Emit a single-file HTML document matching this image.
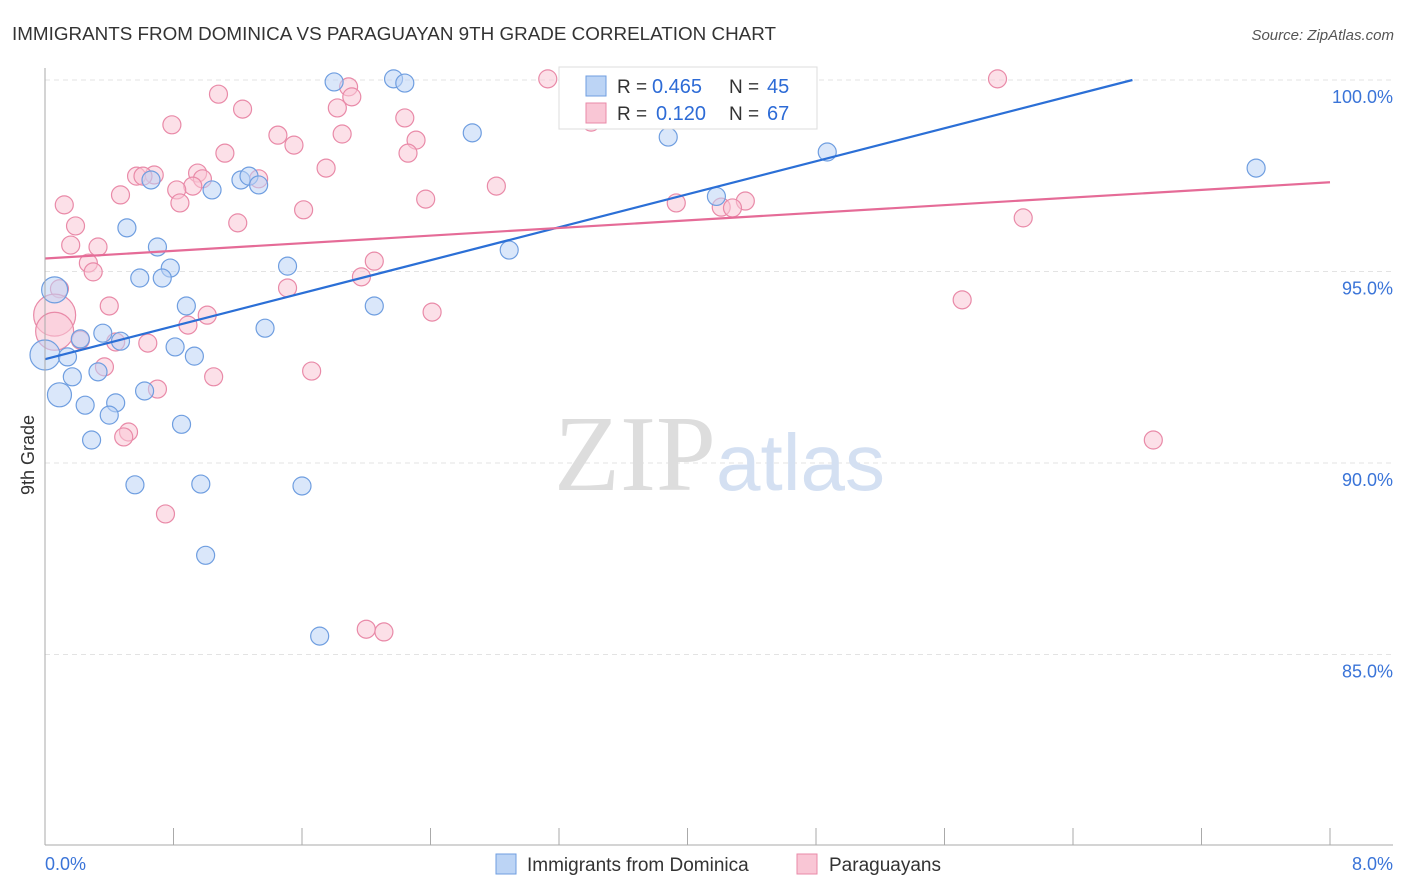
<!DOCTYPE html>
<html><head><meta charset="utf-8"><style>
body{margin:0;background:#fff;font-family:"Liberation Sans",sans-serif}
#c{position:absolute;left:0;top:0}
</style></head><body>
<svg id="c" width="1406" height="892">
<text x="12" y="40" font-size="18" fill="#333" textLength="764" lengthAdjust="spacingAndGlyphs">IMMIGRANTS FROM DOMINICA VS PARAGUAYAN 9TH GRADE CORRELATION CHART</text>
<text x="1394" y="40" font-size="15" fill="#555" text-anchor="end" font-style="italic">Source: ZipAtlas.com</text>
<g id="grid"></g>
<text x="716" y="490" font-size="108" fill="#ddd" text-anchor="end" font-family="Liberation Serif">ZIP</text>
<text x="716" y="490" font-size="80" fill="#d4e0f2">atlas</text>
<g id="pts"></g>
<g id="axes"></g>
<text x="34" y="455" font-size="18" fill="#333" text-anchor="middle" transform="rotate(-90 34 455)">9th Grade</text>
<g>
<rect x="559" y="67" width="258" height="62" fill="#fff" stroke="#ddd"/>
<rect x="586" y="76" width="20" height="20" fill="#bcd4f5" stroke="#6f9ee0"/>
<rect x="586" y="103" width="20" height="20" fill="#f9c6d5" stroke="#e98aa8"/>
<text x="617" y="93" font-size="19" fill="#333">R =</text><text x="652" y="93" font-size="20" fill="#2d6bd6">0.465</text>
<text x="729" y="93" font-size="19" fill="#333">N =</text><text x="767" y="93" font-size="20" fill="#2d6bd6">45</text>
<text x="617" y="120" font-size="19" fill="#333">R =</text><text x="656" y="120" font-size="20" fill="#2d6bd6">0.120</text>
<text x="729" y="120" font-size="19" fill="#333">N =</text><text x="767" y="120" font-size="20" fill="#2d6bd6">67</text>
</g>
<g>
<rect x="496" y="854" width="20" height="20" fill="#bcd4f5" stroke="#6f9ee0"/>
<text x="527" y="871" font-size="19" fill="#333">Immigrants from Dominica</text>
<rect x="797" y="854" width="20" height="20" fill="#f9c6d5" stroke="#e98aa8"/>
<text x="829" y="871" font-size="19" fill="#333">Paraguayans</text>
</g>
</svg>
<script>
const yTicks=[100,95,90,85];
const xTickLabels=["0.0%","8.0%"];
const blueX=[1.80,2.17,2.24,2.66,3.88,4.87,7.54,0.66,1.04,1.22,1.27,1.33,0.51,0.7,4.18,2.89,0.78,0.59,0.73,1.51,0.06,0.88,2.05,1.37,0.36,0.22,0.47,0.81,0.93,0.0,0.14,0.33,0.17,0.09,0.62,0.44,0.25,0.40,0.85,0.29,0.56,0.97,1.60,1.00,1.71];
const blueY=[99.95,100.03,99.92,98.62,98.51,98.12,97.70,97.39,97.13,97.39,97.49,97.26,96.14,95.64,96.96,95.56,95.09,94.83,94.83,95.14,94.52,94.10,94.10,93.52,93.39,93.24,93.18,93.03,92.79,92.82,92.77,92.38,92.25,91.78,91.88,91.57,91.51,91.25,91.01,90.60,89.43,89.45,89.40,87.59,85.48];
const blueR=[8,8,8,8,8,8,8,8,8,8,8,8,8,8,8,8,8,8,8,8,12,8,8,8,8,8,8,8,8,14,8,8,8,11,8,8,8,8,8,8,8,8,8,8,8];
const pinkX=[3.13,5.93,1.08,1.89,1.91,1.23,1.82,0.79,2.24,3.40,1.45,1.85,2.31,1.55,1.12,2.26,1.75,0.57,0.68,0.61,0.95,0.98,1.33,0.92,0.82,0.47,2.81,0.84,2.37,3.93,4.36,4.21,4.28,0.12,1.61,0.19,1.20,6.09,0.16,0.33,0.27,0.30,2.05,1.97,1.51,0.09,5.71,0.40,1.01,2.41,0.89,0.06,0.06,0.22,0.64,0.44,0.37,1.66,1.05,0.70,6.90,0.52,0.49,0.75,2.00,2.11];
const pinkY=[100.03,100.03,99.63,99.82,99.56,99.24,99.27,98.83,99.01,98.90,98.56,98.59,98.43,98.30,98.09,98.09,97.70,97.49,97.52,97.49,97.57,97.42,97.42,97.23,97.13,97.00,97.23,96.79,96.89,96.79,96.84,96.68,96.66,96.74,96.61,96.19,96.27,96.40,95.69,95.64,95.22,94.99,95.27,94.86,94.57,94.55,94.26,94.10,93.86,93.94,93.60,93.86,93.44,93.21,93.13,93.16,92.51,92.40,92.25,91.93,90.60,90.81,90.68,88.67,85.66,85.59];
const pinkR=[8,8,8,8,8,8,8,8,8,8,8,8,8,8,8,8,8,8,8,8,8,8,8,8,8,8,8,8,8,8,8,8,8,8,8,8,8,8,8,8,8,8,8,8,8,8,8,8,8,8,8,20,18,8,8,8,8,8,8,8,8,8,8,8,8,8];
const blueLine=[[0,92.71],[6.77,100.0]];
const pinkLine=[[0,95.34],[8,97.33]];
const X0=45,X1=1330;
const sx=v=>X0+v/8*(X1-X0);
const sy=v=>80+(100-v)*38.3;
const NS="http://www.w3.org/2000/svg";
function mk(t,a,p){const e=document.createElementNS(NS,t);for(const k in a)e.setAttribute(k,a[k]);p.appendChild(e);return e;}
const grid=document.getElementById('grid'),axes=document.getElementById('axes'),pts=document.getElementById('pts');
yTicks.forEach(v=>{
 const l=mk('line',{x1:45,x2:1393,y1:sy(v),y2:sy(v),stroke:'#e3e3e3','stroke-dasharray':'5,4'},grid);
 
 
 const t=mk('text',{x:1393,y:sy(v)+23,'font-size':18,fill:'#3a74d8','text-anchor':'end'},axes);
 t.textContent=v.toFixed(1)+'%';
 
 
});
mk('line',{x1:45,x2:45,y1:68,y2:845,stroke:'#aaa'},axes);
mk('line',{x1:45,x2:1393,y1:845,y2:845,stroke:'#aaa'},axes);
for(let i=0;i<=10;i++){const x=sx(i*0.8);const t=mk('line',{x1:x,x2:x,y1:828,y2:845,stroke:'#aaa'},axes);
 
 }
[[0,'start',45],[8,'end',1393]].forEach((d,i)=>{const t=mk('text',{x:d[2],y:870,'font-size':18,fill:'#3a74d8','text-anchor':d[1]},axes);t.textContent=xTickLabels[i];
 
 });
function dots(X,Y,R,f,s,n){X.forEach((x,i)=>{const c=mk('circle',{cx:sx(x),cy:sy(Y[i]),r:R[i]+1,fill:f,'fill-opacity':0.55,stroke:s,'stroke-width':1.2},pts);
 
 });}
dots(pinkX,pinkY,pinkR,'#f9c6d5','#e98aa8','pink-point');
dots(blueX,blueY,blueR,'#bcd4f5','#6f9ee0','blue-point');
const bl=mk('line',{x1:sx(blueLine[0][0]),y1:sy(blueLine[0][1]),x2:sx(blueLine[1][0]),y2:sy(blueLine[1][1]),stroke:'#2b6fd6','stroke-width':2.2},pts);


const pl=mk('line',{x1:sx(pinkLine[0][0]),y1:sy(pinkLine[0][1]),x2:sx(pinkLine[1][0]),y2:sy(pinkLine[1][1]),stroke:'#e56b97','stroke-width':2.2},pts);


</script>
</body></html>
